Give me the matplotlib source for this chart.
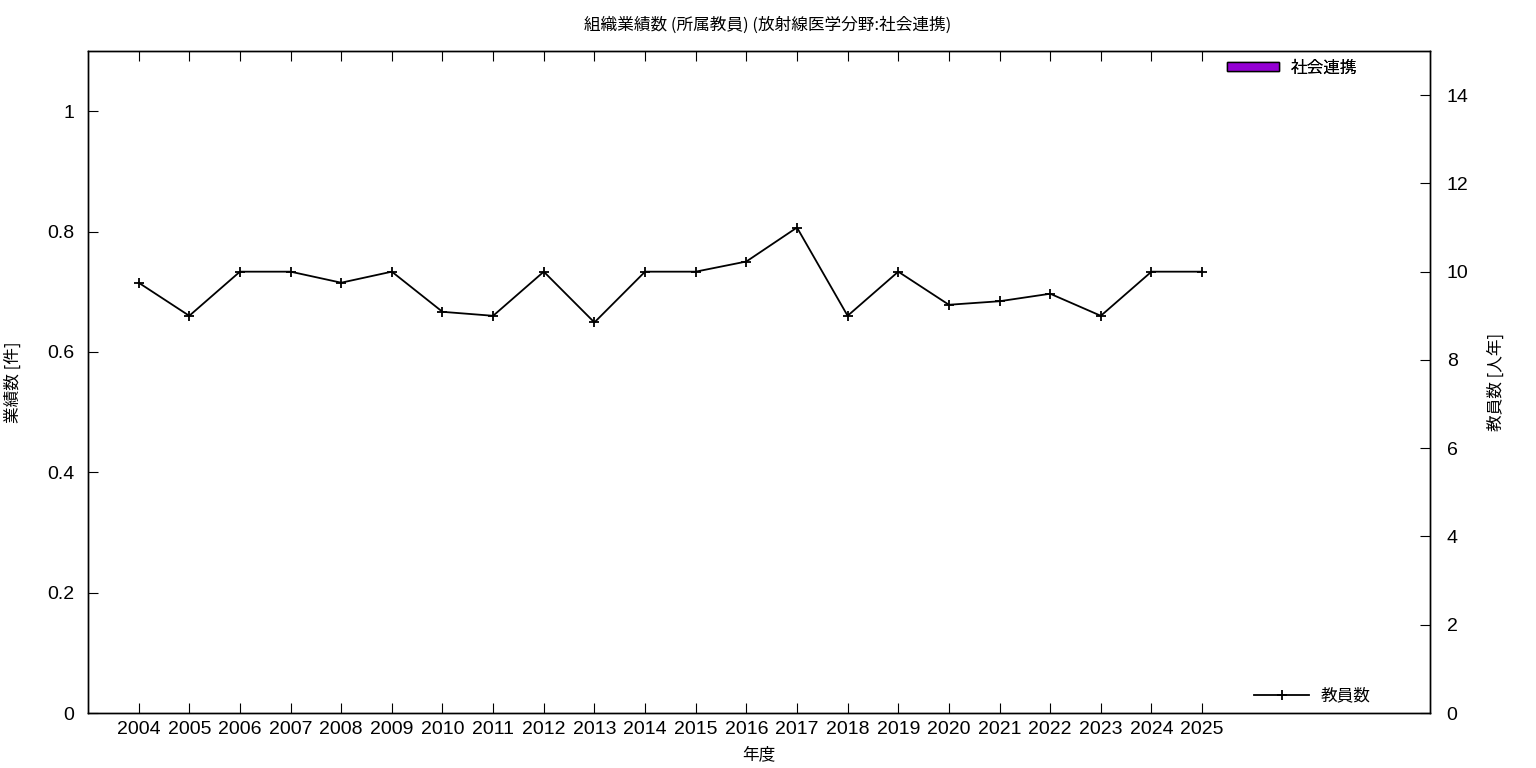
import matplotlib
matplotlib.use("Agg")
import matplotlib.pyplot as plt
from matplotlib.patches import Patch
from matplotlib.lines import Line2D

plt.rcParams['font.family'] = ['Noto Sans CJK JP', 'DejaVu Sans']

years = [2004, 2005, 2006, 2007, 2008, 2009, 2010, 2011, 2012, 2013, 2014,
         2015, 2016, 2017, 2018, 2019, 2020, 2021, 2022, 2023, 2024, 2025]
works = [0] * 22
staff = [9.75, 9.0, 10.0, 10.0, 9.75, 10.0, 9.09, 9.0, 10.0, 8.85, 10.0,
         10.0, 10.23, 11.0, 9.0, 10.0, 9.25, 9.33, 9.5, 9.0, 10.0, 10.0]

title = "組織業績数 (所属教員) (放射線医学分野:社会連携)"
bar_label = "社会連携"
line_label = "教員数"

tick_font = ['Liberation Sans', 'Noto Sans CJK JP']

fig = plt.figure(figsize=(15.36, 7.68), dpi=100)
ax = fig.add_axes([88/1536, 1-713/768, (1430-88)/1536, (713-51)/768])
ax2 = ax.twinx()

ax.bar(years, works, width=0.8, color='#9400D3', edgecolor='black', linewidth=0)
ax2.plot(years, staff, color='black', linewidth=1.3, marker='+', markersize=7,
         markeredgewidth=1.3)

ax.set_xlim(2003, 2029.5)
ax.set_ylim(0, 1.1)
ax2.set_ylim(0, 15)
ax.set_xticks(years)
ax.set_xticklabels([str(y) for y in years])
ax.set_yticks([0, 0.2, 0.4, 0.6, 0.8, 1.0])
ax.set_yticklabels(['0', '0.2', '0.4', '0.6', '0.8', '1'])
ax2.set_yticks(range(0, 15, 2))

ax.tick_params(axis='x', direction='in', length=7, top=True, labelsize=14, pad=6)
ax.tick_params(axis='y', direction='in', length=7, labelsize=14, pad=10)
ax2.tick_params(axis='y', direction='in', length=7, labelsize=14, pad=12)
for lbl in ax.get_xticklabels() + ax.get_yticklabels() + ax2.get_yticklabels():
    lbl.set_family(tick_font)

for a in (ax, ax2):
    for s in a.spines.values():
        s.set_linewidth(1)
        s.set_color('black')

ax.set_xlabel("年度", fontsize=12, labelpad=6)
ax.set_ylabel("業績数 [件]", fontsize=12, labelpad=18)
ax2.set_ylabel("教員数 [人年]", fontsize=12, labelpad=14)
fig.suptitle(title, fontsize=12, y=0.978)

leg1 = ax.legend([Patch(facecolor='#9400D3', edgecolor='black')], [bar_label],
                 loc='upper right', bbox_to_anchor=(0.957, 1.01), frameon=False,
                 fontsize=12, handlelength=3.1, handleheight=0.5, handletextpad=0.7)
ax.add_artist(leg1)
ax2.legend([Line2D([0], [0], color='black', linewidth=1.3, marker='+',
                   markersize=7, markeredgewidth=1.3)], [line_label],
           loc='lower right', bbox_to_anchor=(0.967, -0.01), frameon=False,
           fontsize=12, handlelength=3.3, handletextpad=0.7, numpoints=1)

fig.savefig("out.png", dpi=100)
